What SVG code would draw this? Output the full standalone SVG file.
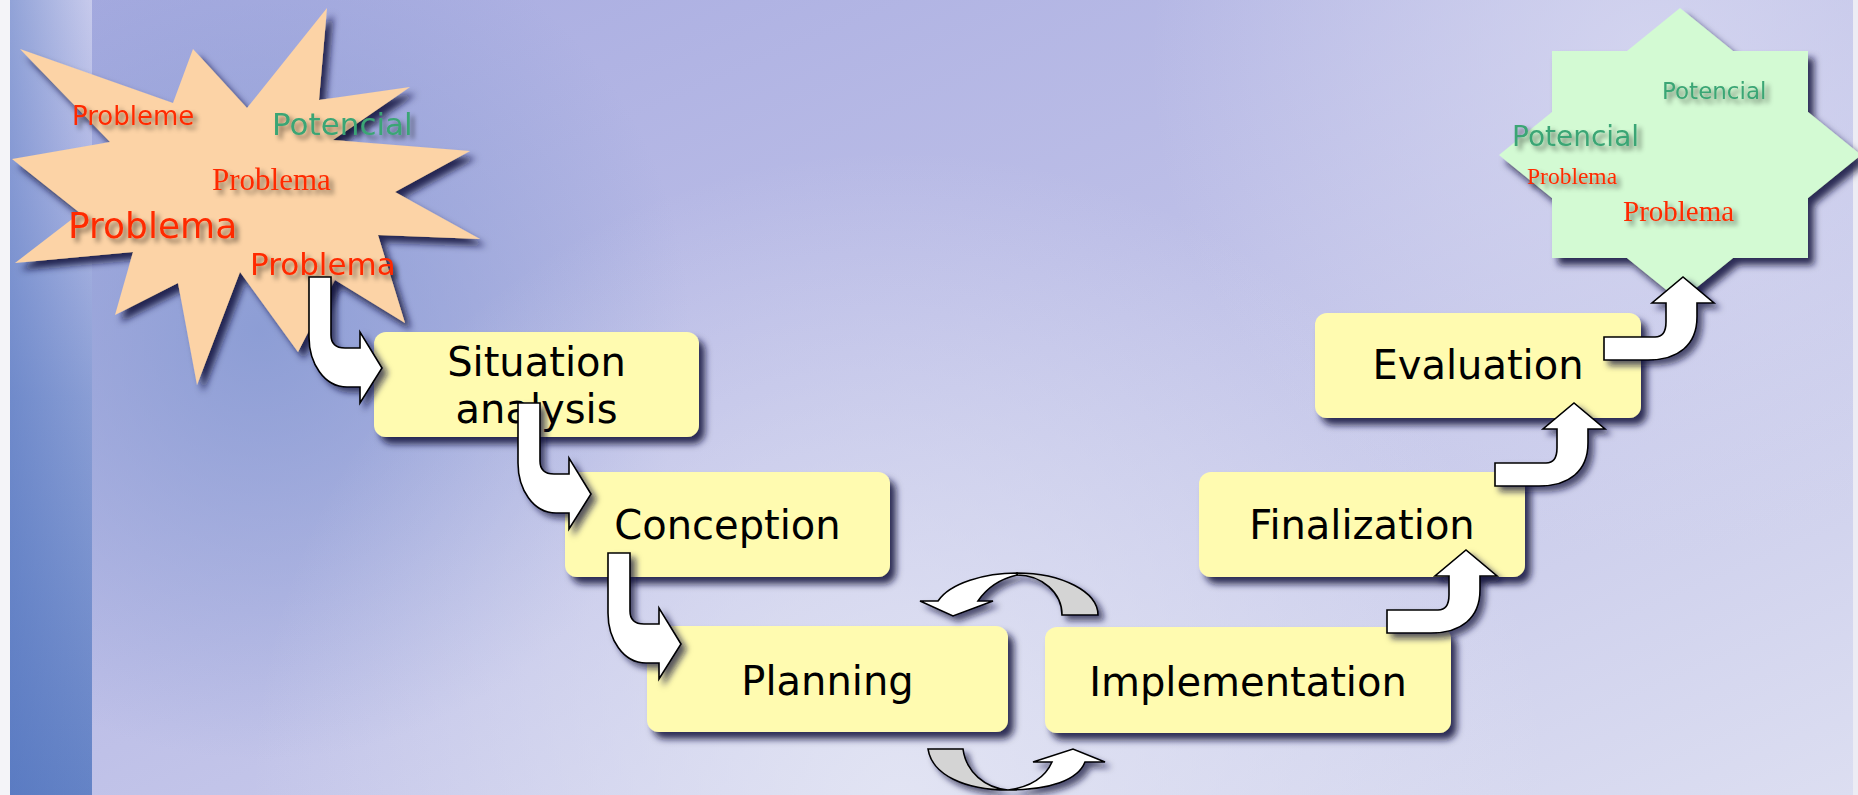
<svg xmlns="http://www.w3.org/2000/svg" xmlns:xlink="http://www.w3.org/1999/xlink" width="1858" height="795" viewBox="0 0 1858 795">
<defs>
<style>
.box{fill:#FFFBB0}
.lbl{font-family:"DejaVu Sans",Verdana,sans-serif;font-size:40px;fill:#000;text-anchor:middle}
.arr{fill:#FFFFFF;stroke:#000;stroke-width:1.6;stroke-linejoin:miter}
.back{fill:#D4D4D4;stroke:#000;stroke-width:1.6}
.sans{font-family:"DejaVu Sans",Verdana,sans-serif}
.serif{font-family:"Liberation Serif","Times New Roman",serif}
.red{fill:#FF2A00}
.grn{fill:#3AA574}
</style>
<filter id="shBox" x="-10%" y="-10%" width="130%" height="140%">
<feGaussianBlur in="SourceAlpha" stdDeviation="3.5"/>
<feOffset dx="6" dy="7" result="b"/>
<feFlood flood-color="#12123A" flood-opacity="0.85"/>
<feComposite in2="b" operator="in"/>
<feMerge><feMergeNode/><feMergeNode in="SourceGraphic"/></feMerge>
</filter>
<filter id="shArr" x="-30%" y="-30%" width="170%" height="170%">
<feGaussianBlur in="SourceAlpha" stdDeviation="3"/>
<feOffset dx="5" dy="5" result="b"/>
<feFlood flood-color="#12123A" flood-opacity="0.7"/>
<feComposite in2="b" operator="in"/>
<feMerge><feMergeNode/><feMergeNode in="SourceGraphic"/></feMerge>
</filter>
<filter id="shTxt" x="-10%" y="-30%" width="130%" height="170%">
<feGaussianBlur in="SourceAlpha" stdDeviation="2.5"/>
<feOffset dx="4" dy="4" result="b"/>
<feFlood flood-color="#000" flood-opacity="0.5"/>
<feComposite in2="b" operator="in"/>
<feMerge><feMergeNode/><feMergeNode in="SourceGraphic"/></feMerge>
</filter>
<linearGradient id="bg1" x1="0" y1="0" x2="1" y2="1">
<stop offset="0" stop-color="#A6AAE0"/>
<stop offset="0.45" stop-color="#BCBEE7"/>
<stop offset="1" stop-color="#DCDEF1"/>
</linearGradient>
<radialGradient id="bluePatch" cx="260" cy="330" r="430" gradientUnits="userSpaceOnUse">
<stop offset="0" stop-color="#8699D2" stop-opacity="0.85"/>
<stop offset="1" stop-color="#8699D2" stop-opacity="0"/>
</radialGradient>
<radialGradient id="lightBottom" cx="900" cy="800" r="650" gradientUnits="userSpaceOnUse">
<stop offset="0" stop-color="#E4E6F4" stop-opacity="0.9"/>
<stop offset="1" stop-color="#E4E6F4" stop-opacity="0"/>
</radialGradient>
<radialGradient id="lightTR" cx="1650" cy="60" r="500" gradientUnits="userSpaceOnUse">
<stop offset="0" stop-color="#D8D9F1" stop-opacity="0.8"/>
<stop offset="1" stop-color="#D8D9F1" stop-opacity="0"/>
</radialGradient>
<linearGradient id="strip" x1="0" y1="0" x2="0" y2="1">
<stop offset="0" stop-color="#C7CAEC"/>
<stop offset="0.2" stop-color="#B2B9E5"/>
<stop offset="0.5" stop-color="#8A9ED5"/>
<stop offset="1" stop-color="#6483C6"/>
</linearGradient>
<linearGradient id="stripH" x1="0" y1="0" x2="1" y2="0">
<stop offset="0" stop-color="#4F72BE" stop-opacity="0.45"/>
<stop offset="1" stop-color="#4F72BE" stop-opacity="0"/>
</linearGradient>
<path id="arrowDR" d="M-73,-91 L-51,-91 L-51,-33 Q-51,-20 -37,-20 L-22,-20 L-22,-36 L0,0 L-22,35 L-22,19 L-35,19 C-58,19 -73,-5 -73,-31 Z"/>
<path id="arrowUR" d="M-79,60 L-28,60 Q-17,60 -17,45 L-17,26 L-31,26 L0,0 L31,26 L14,26 L14,40 C14,68 -5,83 -35,83 L-79,83 Z"/>
</defs>

<g id="background">
<rect x="0" y="0" width="1858" height="795" fill="url(#bg1)"/>
<rect x="0" y="0" width="1858" height="795" fill="url(#bluePatch)"/>
<rect x="0" y="0" width="1858" height="795" fill="url(#lightTR)"/>
<rect x="0" y="0" width="1858" height="795" fill="url(#lightBottom)"/>
<rect x="10" y="0" width="82" height="795" fill="url(#strip)"/>
<rect x="10" y="0" width="82" height="795" fill="url(#stripH)"/>
<rect x="0" y="0" width="10" height="795" fill="#F4F4F8"/>
<rect x="1853" y="0" width="5" height="795" fill="#ECECF4"/>
</g>

<g id="problems-star">
<polygon points="20,49 173,103 193,49 247,108 327,8 319,100 410,87 333,140 470,151 395,192 480,239 378,235 405,323 335,280 298,352 240,272 197,385 178,283 115,315 133,252 15,263 80,213 12,159 110,142" fill="#FCD3A6" filter="url(#shBox)"/>
<g filter="url(#shTxt)">
<text x="72" y="125" class="sans red" font-size="26">Probleme</text>
<text x="272" y="135" class="sans grn" font-size="31">Potencial</text>
<text x="212" y="190" class="serif red" font-size="31">Problema</text>
<text x="68" y="238" class="sans red" font-size="36">Problema</text>
<text x="250" y="275" class="sans red" font-size="31">Problema</text>
</g>
</g>

<g id="potential-star">
<polygon points="1680,8 1733,51 1808,51 1808,112 1861,155 1808,198 1808,258 1733,258 1680,301 1627,258 1552,258 1552,198 1499,155 1552,112 1552,51 1627,51" fill="#D3FAD3" filter="url(#shBox)"/>
<g filter="url(#shTxt)">
<text x="1662" y="99" class="sans grn" font-size="23">Potencial</text>
<text x="1512" y="146" class="sans grn" font-size="28">Potencial</text>
<text x="1527" y="184" class="serif red" font-size="23.5">Problema</text>
<text x="1623" y="221" class="serif red" font-size="29">Problema</text>
</g>
</g>

<g id="situation-analysis">
<rect class="box" x="374" y="332" width="325" height="105" rx="12" filter="url(#shBox)"/>
<text class="lbl" x="536.5" y="376">Situation</text>
<text class="lbl" x="536.5" y="423">analysis</text>
</g>
<g id="conception">
<rect class="box" x="565" y="472" width="325" height="105" rx="12" filter="url(#shBox)"/>
<text class="lbl" x="727.5" y="539">Conception</text>
</g>
<g id="planning">
<rect class="box" x="647" y="626" width="361" height="106" rx="12" filter="url(#shBox)"/>
<text class="lbl" x="827.5" y="695">Planning</text>
</g>
<g id="implementation">
<rect class="box" x="1045" y="627" width="406" height="106" rx="12" filter="url(#shBox)"/>
<text class="lbl" x="1248" y="696">Implementation</text>
</g>
<g id="finalization">
<rect class="box" x="1199" y="472" width="326" height="105" rx="12" filter="url(#shBox)"/>
<text class="lbl" x="1362" y="539">Finalization</text>
</g>
<g id="evaluation">
<rect class="box" x="1315" y="313" width="326" height="105" rx="12" filter="url(#shBox)"/>
<text class="lbl" x="1478" y="379">Evaluation</text>
</g>

<g id="connectors">
<g filter="url(#shArr)"><use xlink:href="#arrowDR" class="arr" transform="translate(382,368)"/></g>
<g filter="url(#shArr)"><use xlink:href="#arrowDR" class="arr" transform="translate(591,494)"/></g>
<g filter="url(#shArr)"><use xlink:href="#arrowDR" class="arr" transform="translate(681,644)"/></g>
<g filter="url(#shArr)">
<path class="back" d="M1017,573 A81,42 0 0 1 1098,615 L1062,615 A45,40 0 0 0 1017,575 Z"/>
<path class="arr" d="M1017,573 C985,573 950,583 938,601 L920,601 L953,616 L993,601 L978,601 C986,589 1000,579 1017,575 Z"/>
</g>
<g filter="url(#shArr)">
<path class="back" d="M928,749 L963,749 C966,772 985,788 1008,790 C965,790 932,775 928,749 Z"/>
<path class="arr" d="M1008,790 C1050,790 1078,780 1085,762 L1105,762 L1073,749 L1033,762 L1052,762 C1045,778 1030,787 1008,790 Z"/>
</g>
<g filter="url(#shArr)"><use xlink:href="#arrowUR" class="arr" transform="translate(1466,550)"/></g>
<g filter="url(#shArr)"><use xlink:href="#arrowUR" class="arr" transform="translate(1574,403)"/></g>
<g filter="url(#shArr)"><use xlink:href="#arrowUR" class="arr" transform="translate(1683,277)"/></g>
</g>
</svg>
